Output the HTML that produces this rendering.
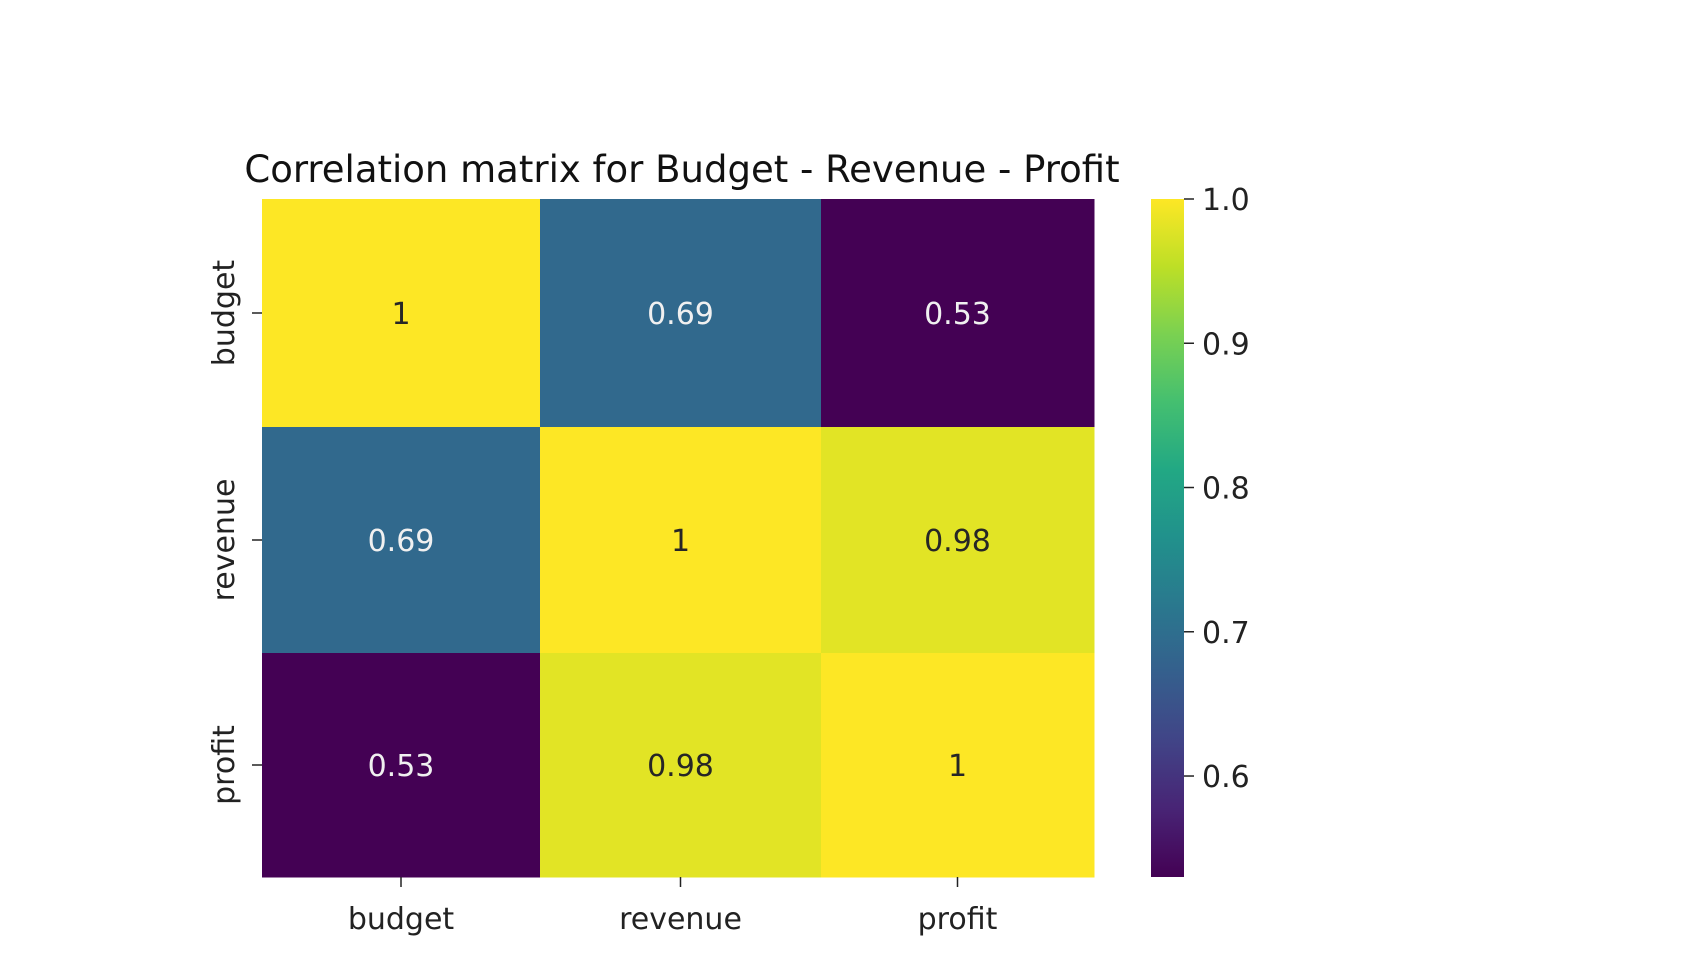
<!DOCTYPE html>
<html><head><meta charset="utf-8"><style>
body{margin:0;background:#fff;}
svg text{font-family:"DejaVu Sans","Liberation Sans",sans-serif;}
</style></head><body>
<svg width="1700" height="970" viewBox="0 0 1700 970">
<defs>
<linearGradient id="vir" x1="0" y1="1" x2="0" y2="0">
<stop offset="0" stop-color="#440154"/><stop offset="0.1" stop-color="#482475"/>
<stop offset="0.2" stop-color="#414487"/><stop offset="0.3" stop-color="#355f8d"/>
<stop offset="0.4" stop-color="#2a788e"/><stop offset="0.5" stop-color="#21918c"/>
<stop offset="0.6" stop-color="#22a884"/><stop offset="0.7" stop-color="#44bf70"/>
<stop offset="0.8" stop-color="#7ad151"/><stop offset="0.9" stop-color="#bddf26"/>
<stop offset="1" stop-color="#fde725"/>
</linearGradient>
</defs>
<text x="682" y="182" font-size="37" text-anchor="middle" fill="#111">Correlation matrix for Budget - Revenue - Profit</text>
<g id="cells"></g>
<g id="axes"></g>
<rect x="1151" y="199" width="33" height="678" fill="url(#vir)"/>
<g id="cbar"></g>
</svg>
<script>
const labels = ["budget","revenue","profit"];
const matrix = [[1,0.69,0.53],[0.69,1,0.98],[0.53,0.98,1]];
const cbarTicks = [0.6,0.7,0.8,0.9,1.0];
const vmin = 0.53, vmax = 1.0;

const ns = "http://www.w3.org/2000/svg";
const colX = [262,540,821,1094];
const rowY = [199,427,653,877];
function mk(t,a,p){const e=document.createElementNS(ns,t);for(const k in a)e.setAttribute(k,a[k]);p.appendChild(e);return e;}
const stops=[[0,"#440154"],[0.1,"#482475"],[0.2,"#414487"],[0.3,"#355f8d"],[0.4,"#2a788e"],[0.5,"#21918c"],[0.6,"#22a884"],[0.7,"#44bf70"],[0.8,"#7ad151"],[0.9,"#bddf26"],[1,"#fde725"]];
function hx(c){return [1,3,5].map(i=>parseInt(c.substr(i,2),16));}
function color(v){let t=(v-vmin)/(vmax-vmin);t=Math.max(0,Math.min(1,t));
 for(let i=0;i<stops.length-1;i++){if(t<=stops[i+1][0]){const f=(t-stops[i][0])/(stops[i+1][0]-stops[i][0]);const a=hx(stops[i][1]),b=hx(stops[i+1][1]);return "rgb("+a.map((x,j)=>Math.round(x+(b[j]-x)*f)).join(",")+")";}}return stops[10][1];}
function cy(v){return 199+(vmax-v)/(vmax-vmin)*678;}
const cells=document.getElementById("cells"), axes=document.getElementById("axes"), cb=document.getElementById("cbar");
matrix.forEach((row,r)=>row.forEach((v,c)=>{
 const rc=mk("rect",{x:colX[c],y:rowY[r],width:colX[c+1]-colX[c]+0.5,height:rowY[r+1]-rowY[r]+0.5,fill:color(v)},cells);
 
 
 const t=mk("text",{x:(colX[c]+colX[c+1])/2,y:(rowY[r]+rowY[r+1])/2+11,"font-size":30,"text-anchor":"middle",fill:(v-vmin)/(vmax-vmin)>0.5?"#262626":"#f0f0f0"},cells);
 t.textContent=String(v);
 
 
}));
labels.forEach((l,i)=>{
 const xm=(colX[i]+colX[i+1])/2, ym=(rowY[i]+rowY[i+1])/2;
 mk("line",{x1:xm,y1:877,x2:xm,y2:887,stroke:"#222","stroke-width":1.5},axes);
 const tx=mk("text",{x:xm,y:929,"font-size":30,"text-anchor":"middle",fill:"#222"},axes);
 tx.textContent=l;
 
 
 mk("line",{x1:252,y1:ym,x2:262,y2:ym,stroke:"#222","stroke-width":1.5},axes);
 const ty=mk("text",{x:0,y:0,"font-size":30,"text-anchor":"middle",fill:"#222",transform:"translate(234,"+ym+") rotate(-90)"},axes);
 ty.textContent=l;
 
 
});
cbarTicks.forEach(v=>{
 const y=cy(v);
 mk("line",{x1:1184,y1:y,x2:1194,y2:y,stroke:"#222","stroke-width":1.5},cb);
 const t=mk("text",{x:1202,y:y+11,"font-size":30,fill:"#222"},cb);
 t.textContent=v.toFixed(1);
 
 
});
</script>
</body></html>
